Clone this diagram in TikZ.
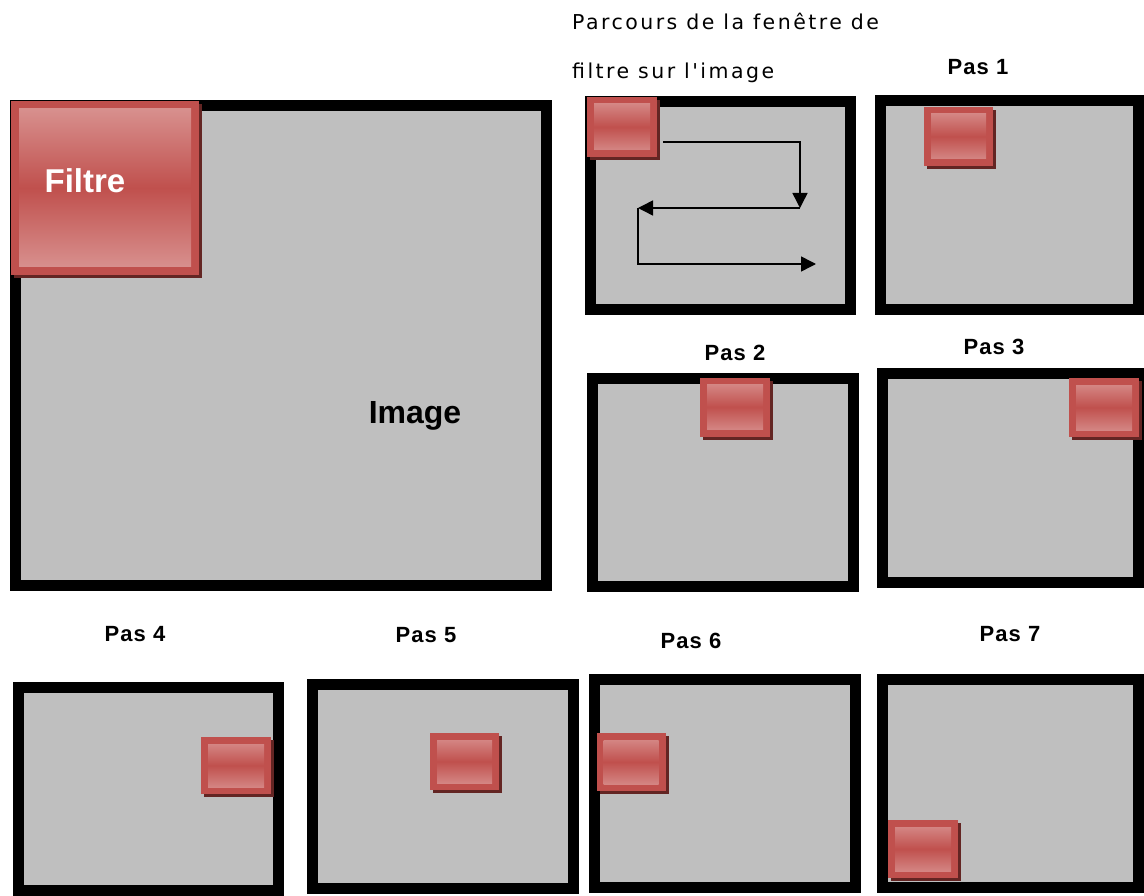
\documentclass[tikz,border=0pt]{standalone}
\usepackage{fontspec}
\setmainfont{Liberation Sans}
\newfontfamily\parcoursfont[LetterSpace=12]{DejaVu Sans}
\newfontfamily\pasfont[LetterSpace=5]{Liberation Sans}
\usetikzlibrary{arrows.meta,shadows}
\definecolor{imggris}{HTML}{BFBFBF}
\definecolor{filtrouge}{HTML}{C0504D}
\definecolor{filtclair}{HTML}{DA9694}
\definecolor{filtombre}{HTML}{632523}

\begin{document}
\begin{tikzpicture}[
  x=1pt, y=-1pt,
  cadre/.style={draw=black,fill=imggris,line width=11pt,inner sep=0pt},
  filtre/.style={fill=filtrouge,inner sep=0pt,
    general shadow={fill=filtombre,shadow xshift=3pt,shadow yshift=-3pt},
    path picture={\shade[top color=filtclair,bottom color=filtclair,middle color=filtrouge]
      ([shift={(#1,-#1)}]path picture bounding box.north west) rectangle
      ([shift={(-#1,#1)}]path picture bounding box.south east);}},
  filtre/.default=7pt,
  pas/.style={font=\pasfont\bfseries\fontsize{22}{26}\selectfont,inner sep=0pt},
  fleche/.style={line width=1.5pt,-{Triangle[length=15pt,width=15pt]}}
]
  \useasboundingbox (0,0) rectangle (1144,896);
  % cadres
  \node[cadre,minimum width=531pt,minimum height=480pt] (image) at (281,345.5) {};
  \node[cadre,minimum width=260pt,minimum height=208pt] (parcours) at (720.5,205.5) {};
  \node[cadre,minimum width=258pt,minimum height=209pt] (cadre1) at (1009.5,205) {};
  \node[cadre,minimum width=261pt,minimum height=208pt] (cadre2) at (723,482.5) {};
  \node[cadre,minimum width=256pt,minimum height=209pt] (cadre3) at (1010.5,478) {};
  \node[cadre,minimum width=260pt,minimum height=203pt] (cadre4) at (148.5,789) {};
  \node[cadre,minimum width=261pt,minimum height=204pt] (cadre5) at (443,786.5) {};
  \node[cadre,minimum width=261pt,minimum height=208pt] (cadre6) at (725,783.5) {};
  \node[cadre,minimum width=256pt,minimum height=208pt] (cadre7) at (1010.5,783.5) {};
  % filtres
  \node[filtre=8pt,minimum width=188pt,minimum height=174pt] (filtre0) at (105,188) {};
  \node[filtre,minimum width=70pt,minimum height=60pt] (filtreA) at (622,127) {};
  \node[filtre,minimum width=69pt,minimum height=59pt] (filtre1) at (958.5,136.5) {};
  \node[filtre,minimum width=70pt,minimum height=59pt] (filtre2) at (735,407) {};
  \node[filtre,minimum width=70pt,minimum height=59pt] (filtre3) at (1104,407.5) {};
  \node[filtre,minimum width=70pt,minimum height=57pt] (filtre4) at (236,765.5) {};
  \node[filtre,minimum width=69pt,minimum height=57pt] (filtre5) at (464.5,761.5) {};
  \node[filtre,minimum width=69pt,minimum height=58pt] (filtre6) at (631,762) {};
  \node[filtre,minimum width=70pt,minimum height=58pt] (filtre7) at (923,849) {};
  % parcours
  \coordinate (c1) at (663,142);
  \coordinate (c2) at (800,142);
  \coordinate (c3) at (800,208);
  \coordinate (c4) at (638,208);
  \coordinate (c5) at (638,264);
  \coordinate (c6) at (816,264);
  \draw[fleche] (c1) -- (c2) -- (c3);
  \draw[fleche] (c3) -- (c4);
  \draw[fleche] (c4) -- (c5) -- (c6);
  % textes
  \node[text=white,font=\bfseries\fontsize{33}{36}\selectfont,inner sep=0pt] (filtretxt) at (85,181) {Filtre};
  \node[font=\bfseries\fontsize{32}{36}\selectfont,inner sep=0pt] (imagetxt) at (415,416) {Image};
  \node[font=\parcoursfont\fontsize{20.5}{49}\selectfont,align=left,anchor=north west,inner sep=0pt] (titre) at (572,13) {Parcours de la fenêtre de\\filtre sur l'image};
  \node[pas] (pas1) at (978,67) {Pas 1};
  \node[pas] (pas2) at (735,353) {Pas 2};
  \node[pas] (pas3) at (994,347) {Pas 3};
  \node[pas] (pas4) at (135,634) {Pas 4};
  \node[pas] (pas5) at (426,635) {Pas 5};
  \node[pas] (pas6) at (691,641) {Pas 6};
  \node[pas] (pas7) at (1010,634) {Pas 7};
\end{tikzpicture}
\end{document}
